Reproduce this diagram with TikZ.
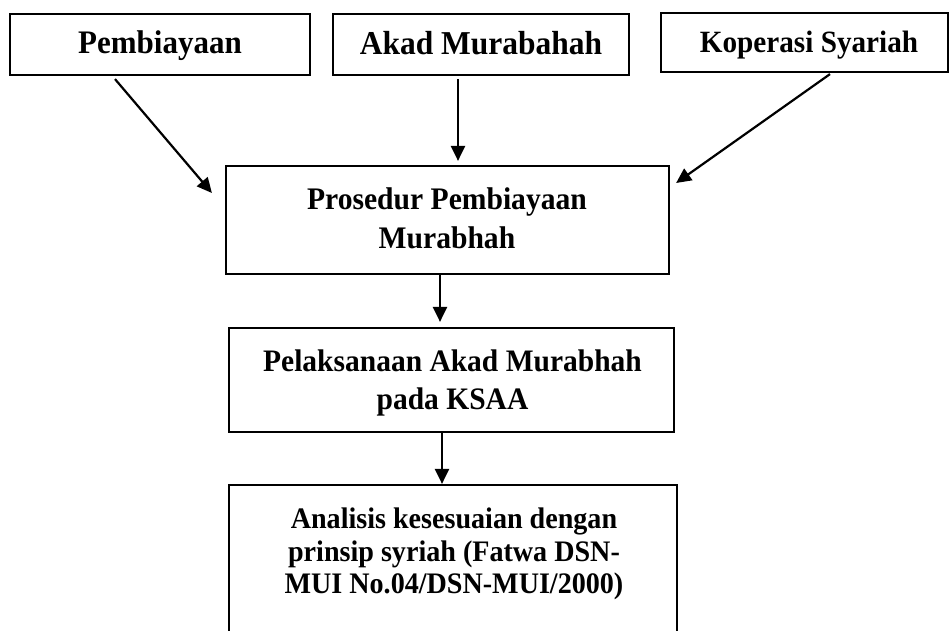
\documentclass[tikz,border=0pt]{standalone}
\usepackage{fontspec}
\setmainfont{Liberation Serif}
\usetikzlibrary{arrows.meta,calc}
\begin{document}
\begin{tikzpicture}[x=1pt,y=-1pt,
  frame/.style={draw, line width=2.2pt, rectangle, inner sep=0pt},
  txt/.style={align=center, inner sep=0pt, yscale=1.06, transform shape},
  arr/.style={line width=2.2pt, -{Triangle[length=15pt,width=14pt]}}]
\useasboundingbox (0,0) rectangle (950,631);
\clip (0,0) rectangle (950,631);
\fill[white] (0,0) rectangle (950,631);
% frames
\node[frame, minimum width=300pt, minimum height=61pt] (b1) at (160,44.5) {};
\node[frame, minimum width=296pt, minimum height=61pt] (b2) at (481,44.5) {};
\node[frame, minimum width=287pt, minimum height=59pt] (b3) at (804.5,42.5) {};
\node[frame, minimum width=443pt, minimum height=108pt] (b4) at (447.5,220) {};
\node[frame, minimum width=445pt, minimum height=104pt] (b5) at (451.5,380) {};
\node[frame, minimum width=448pt, minimum height=170pt] (b6) at (453,570) {};
% texts
\node[txt, anchor=base, font=\bfseries\fontsize{31}{38}\selectfont] (t1) at (160,53.5) {Pembiayaan};
\node[txt, anchor=base, font=\bfseries\fontsize{31.5}{38}\selectfont] (t2) at (481,54.5) {Akad Murabahah};
\node[txt, anchor=base, font=\bfseries\fontsize{29.2}{36}\selectfont] (t3) at (809,52.5) {Koperasi Syariah};
\node[txt, font=\bfseries\fontsize{29.6}{37}\selectfont] (t4) at (447,218) {Prosedur Pembiayaan\\Murabhah};
\node[txt, font=\bfseries\fontsize{29.5}{36}\selectfont] (t5) at (452.5,383) {Pelaksanaan Akad Murabhah\\pada KSAA};
\node[txt, font=\bfseries\fontsize{28.1}{30.9}\selectfont] (t6) at (454,554) {Analisis kesesuaian dengan\\prinsip syriah (Fatwa DSN-\\MUI No.04/DSN-MUI/2000)};
% connectors
\draw[arr] ($(b1.south)+(-45,3)$) -- ($(b4.west)+(-13,-27)$);
\draw[arr] ($(b2.south)+(-23,3)$) -- ($(b4.north)+(10.5,-4)$);
\draw[arr] ($(b3.south)+(25.5,1)$) -- ($(b4.east)+(6,-37)$);
\draw[arr] ($(b4.south)+(-7.5,0)$) -- ($(b5.north)+(-11.5,-5)$);
\draw[arr] ($(b5.south)+(-9.5,0)$) -- ($(b6.north)+(-11,0)$);
\end{tikzpicture}
\end{document}
